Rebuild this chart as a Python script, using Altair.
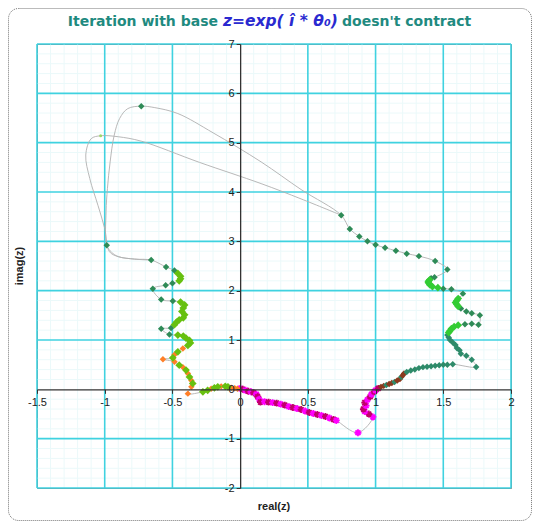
import altair as alt
import pandas as pd

# ---------------- axes / grid values ----------------
X_DOMAIN = [-1.5, 2]
Y_DOMAIN = [-2, 7]
x_ticks = [-1.5, -1, -0.5, 0, 0.5, 1, 1.5, 2]
y_ticks = [-2, -1, 0, 1, 2, 3, 4, 5, 6, 7]
x_major = [-1.5, -1, -0.5, 0.5, 1, 1.5, 2]
y_major = [-2, -1, 1, 2, 3, 4, 5, 6, 7]
x_minor = [-1.4, -1.3, -1.2, -1.1, -0.9, -0.8, -0.7, -0.6, -0.4, -0.3, -0.2, -0.1,
           0.1, 0.2, 0.3, 0.4, 0.6, 0.7, 0.8, 0.9, 1.1, 1.2, 1.3, 1.4, 1.6, 1.7, 1.8, 1.9]
y_minor = [-1.8, -1.6, -1.4, -1.2, -0.8, -0.6, -0.4, -0.2, 0.2, 0.4, 0.6, 0.8,
           1.2, 1.4, 1.6, 1.8, 2.2, 2.4, 2.6, 2.8, 3.2, 3.4, 3.6, 3.8, 4.2, 4.4, 4.6, 4.8,
           5.2, 5.4, 5.6, 5.8, 6.2, 6.4, 6.6, 6.8]

# ---------------- iterates, in path order ----------------
# codes: M magenta, C crimson, B brown, T teal, G green, D dark green,
#        L yellow-green, O orange, S small light dot, '-' curve only
bottom_x = [0.00, 0.02, 0.04, 0.06, 0.08, 0.10, 0.12, 0.13, 0.14, 0.15, 0.18, 0.21, 0.24, 0.27, 0.30,
            0.33, 0.36, 0.39, 0.42, 0.45, 0.48, 0.51, 0.54, 0.57, 0.60, 0.63, 0.66, 0.69, 0.71]
bottom_y = [0.02, 0.00, -0.02, -0.04, -0.05, -0.07, -0.10, -0.15, -0.20, -0.26, -0.25, -0.26, -0.27, -0.28, -0.30,
            -0.32, -0.35, -0.37, -0.39, -0.41, -0.44, -0.47, -0.49, -0.51, -0.53, -0.55, -0.58, -0.61, -0.63]
bottom_c = "MCMCMCMCMCMCMCMCMCMCMCMCMCMCM"

dip_x = [0.87, 0.98, 0.95, 0.92, 0.91, 0.93, 0.92, 0.94, 0.96, 0.97, 0.99, 1.00]
dip_y = [-0.88, -0.56, -0.50, -0.45, -0.40, -0.33, -0.27, -0.21, -0.15, -0.10, -0.05, -0.02]
dip_c = "MMCMCMCMCMCM"

brown_x = [1.02, 1.04, 1.06, 1.08, 1.10, 1.12, 1.14, 1.16, 1.18, 1.19, 1.20, 1.21]
brown_y = [0.02, 0.05, 0.07, 0.09, 0.11, 0.13, 0.15, 0.18, 0.21, 0.25, 0.28, 0.32]
brown_c = "CBBTBBTBBTBB"

teal_x = [1.23, 1.26, 1.29, 1.32, 1.35, 1.38, 1.41, 1.44, 1.47, 1.50, 1.53, 1.57, 1.743,
          1.71, 1.67, 1.63, 1.62, 1.60, 1.59, 1.57, 1.55, 1.54, 1.53]
teal_y = [0.35, 0.38, 0.40, 0.43, 0.45, 0.46, 0.47, 0.48, 0.49, 0.50, 0.50, 0.51, 0.455,
          0.60, 0.68, 0.72, 0.79, 0.84, 0.90, 0.95, 1.00, 1.05, 1.10]
teal_c = "TTTTTTTTTTTTTTTTTTTTTTT"

right_x = [1.54, 1.55, 1.56, 1.58, 1.61, 1.66, 1.71, 1.76, 1.77, 1.71, 1.67, 1.63,
           1.61, 1.60, 1.59, 1.60, 1.61, 1.645, 1.56, 1.50, 1.46, 1.42, 1.40, 1.39, 1.39, 1.40,
           1.41, 1.435, 1.53, 1.44, 1.32, 1.23, 1.15, 1.07, 1.00, 0.94, 0.88, 0.81, 0.746]
right_y = [1.15, 1.19, 1.23, 1.27, 1.30, 1.32, 1.33, 1.31, 1.50, 1.54, 1.58, 1.64,
           1.68, 1.72, 1.76, 1.80, 1.84, 1.94, 2.03, 2.04, 2.06, 2.08, 2.12, 2.16, 2.19, 2.22,
           2.25, 2.27, 2.43, 2.60, 2.70, 2.75, 2.81, 2.87, 2.93, 3.00, 3.10, 3.25, 3.53]
right_c = "GGGGGDDDDDDDGGGGGDDDGGGGGGDDDDDDDDDDDDD"

loop_x = [0.45, 0.155, -0.20, -0.46, -0.63, -0.73, -0.83, -0.89, -0.93, -0.96, -0.98, -0.99,
          -0.985, -0.95, -0.90, -0.78]
loop_y = [4.05, 4.61, 5.20, 5.59, 5.71, 5.74, 5.69, 5.49, 5.15, 4.61, 4.07, 3.60,
          2.92, 2.78, 2.69, 2.64]
loop_c = "-----D------D---"

left_x = [-0.657, -0.547, -0.485, -0.46, -0.44, -0.44, -0.45, -0.50, -0.55, -0.645, -0.583, -0.497,
          -0.44, -0.41, -0.42, -0.43, -0.41, -0.42, -0.45, -0.47, -0.485, -0.51, -0.583, -0.522,
          -0.46, -0.42, -0.40, -0.374, -0.367]
left_y = [2.62, 2.48, 2.41, 2.35, 2.29, 2.24, 2.20, 2.15, 2.11, 2.04, 1.82, 1.79,
          1.77, 1.71, 1.65, 1.58, 1.51, 1.45, 1.41, 1.36, 1.31, 1.245, 1.23, 1.11,
          1.10, 1.08, 1.04, 0.99, 0.94]
left_c = "DDDLLLLDDDDDLLLLLLLLLDDDLLLLL"

low_x = [-0.386, -0.423, -0.46, -0.485, -0.497, -0.57, -0.485, -0.45, -0.423, -0.40, -0.386, -0.374,
         -0.36, -0.35, -0.36, -0.386, -0.275, -0.24, -0.214, -0.19, -0.165, -0.14, -0.11, -0.09,
         -0.066, -0.04, -0.02]
low_y = [0.89, 0.83, 0.76, 0.70, 0.64, 0.61, 0.56, 0.49, 0.45, 0.39, 0.32, 0.25,
         0.18, 0.12, 0.05, -0.087, -0.05, -0.02, 0.01, 0.03, 0.05, 0.06, 0.06, 0.05,
         0.03, 0.02, 0.01]
low_c = "LOLOLOOLOLOLOLOOLLOLLOLLOOO"

# second smoothed branch of the connecting curve
alt_x = [0.746, 0.45, 0.155, -0.30, -0.73, -0.90, -1.03, -1.10, -1.14, -1.11, -1.05, -1.00,
         -0.965, -0.90, -0.78, -0.657]
alt_y = [3.53, 3.86, 4.17, 4.60, 5.03, 5.12, 5.14, 5.08, 4.75, 4.27, 3.73, 3.26,
         2.79, 2.69, 2.64, 2.62]
alt_c = "------S---------"

code_domain = ["M", "C", "B", "T", "G", "D", "L", "O", "S"]
code_colors = ["#ff00ff", "#c0006a", "#8b3a1e", "#2e8b6a", "#33cc33", "#2e8b57", "#66c010", "#ff7f27", "#9ed86a"]

# ---------------- build tables ----------------
rows = []
k = 0
for xs, ys, cs in [(bottom_x, bottom_y, bottom_c), (dip_x, dip_y, dip_c), (brown_x, brown_y, brown_c),
                   (teal_x, teal_y, teal_c), (right_x, right_y, right_c), (loop_x, loop_y, loop_c),
                   (left_x, left_y, left_c), (low_x, low_y, low_c)]:
    for x, y, c in zip(xs, ys, cs):
        rows.append({"x": x, "y": y, "c": c, "branch": "main", "i": k})
        k += 1
for j, (x, y, c) in enumerate(zip(alt_x, alt_y, alt_c)):
    rows.append({"x": x, "y": y, "c": c, "branch": "alt", "i": j})
df = pd.DataFrame(rows)
stars = df[df["c"].isin(["M", "C"])]
diamonds = df[df["c"].isin(["B", "T", "D", "O"])]
big_diamonds = df[df["c"].isin(["G", "L"])]
dots = df[df["c"] == "S"]

W, H = 474, 444
x_off = -(H * 2 / 9)
y_off = -(W * 1.5 / 3.5)

xs_scale = alt.Scale(domain=X_DOMAIN, nice=False, zero=False)
ys_scale = alt.Scale(domain=Y_DOMAIN, nice=False, zero=False)
axis_common = dict(grid=False, domainColor="#333333", domainWidth=1.3, tickColor="#333333",
                   tickSize=4, tickWidth=1, labelFont="Liberation Sans", labelFontSize=11,
                   labelColor="#222222", labelOverlap=False, labelFlush=False,
                   labelExpr="datum.value + ''", title=None, zindex=1)
X = alt.X("x:Q", scale=xs_scale, axis=alt.Axis(values=x_ticks, offset=x_off, labelPadding=3, **axis_common))
Y = alt.Y("y:Q", scale=ys_scale, axis=alt.Axis(values=y_ticks, offset=y_off, labelPadding=2, **axis_common))

grid_minor_v = alt.Chart(pd.DataFrame({"x": x_minor})).mark_rule(color="#ebf9fa", strokeWidth=1).encode(x=X)
grid_minor_h = alt.Chart(pd.DataFrame({"y": y_minor})).mark_rule(color="#ebf9fa", strokeWidth=1).encode(y=Y)
grid_major_v = alt.Chart(pd.DataFrame({"x": x_major})).mark_rule(color="#3fd2e0", strokeWidth=1.6).encode(x=X)
grid_major_h = alt.Chart(pd.DataFrame({"y": y_major})).mark_rule(color="#3fd2e0", strokeWidth=1.6).encode(y=Y)

line = alt.Chart(df).mark_line(color="#b0b0b0", strokeWidth=0.9, interpolate="catmull-rom").encode(
    x=X, y=Y, detail="branch:N", order="i:Q")

color_enc = alt.Color("c:N", scale=alt.Scale(domain=code_domain, range=code_colors), legend=None)

star_path = "M-1,0L1,0M0,-1L0,1M-0.7,-0.7L0.7,0.7M-0.7,0.7L0.7,-0.7"
pts_star = alt.Chart(stars).mark_point(shape=star_path, filled=False, size=48, strokeWidth=1.8,
                                       opacity=1).encode(x=X, y=Y, stroke=color_enc)
pts_dia = alt.Chart(diamonds).mark_point(shape="diamond", filled=True, size=42, opacity=1).encode(
    x=X, y=Y, color=color_enc)
pts_big = alt.Chart(big_diamonds).mark_point(shape="diamond", filled=True, size=60, opacity=1).encode(
    x=X, y=Y, color=color_enc)
pts_dot = alt.Chart(dots).mark_point(shape="circle", filled=True, size=9, opacity=1).encode(
    x=X, y=Y, color=color_enc)

dummy = pd.DataFrame({"a": [0]})
title_font = "DejaVu Sans"
t1 = alt.Chart(dummy).mark_text(text="Iteration with base", font=title_font, fontSize=14, fontWeight="bold",
                                color="#1f8a80", align="right", baseline="alphabetic").encode(
    x=alt.value(181), y=alt.value(-18))
t2 = alt.Chart(dummy).mark_text(text="z=exp( \u00ee * \u03b8\u2080)", font=title_font, fontSize=15.5,
                                fontWeight="bold", fontStyle="italic", color="#2a2ad0", align="left",
                                baseline="alphabetic").encode(x=alt.value(186), y=alt.value(-18))
t3 = alt.Chart(dummy).mark_text(text="doesn't contract", font=title_font, fontSize=14, fontWeight="bold",
                                color="#1f8a80", align="left", baseline="alphabetic").encode(
    x=alt.value(305), y=alt.value(-18))
xt = alt.Chart(dummy).mark_text(text="real(z)", font="Liberation Sans", fontSize=11, fontWeight="bold",
                                color="#222222", align="center", baseline="middle").encode(
    x=alt.value(W / 2), y=alt.value(H + 19))
yt = alt.Chart(dummy).mark_text(text="imag(z)", font="Liberation Sans", fontSize=11, fontWeight="bold",
                                color="#222222", align="center", baseline="middle", angle=270).encode(
    x=alt.value(-17), y=alt.value(H / 2))
frame = alt.Chart(dummy).mark_rect(fill=None, stroke="#777777", strokeWidth=1, strokeDash=[1, 1],
                                   cornerRadius=10).encode(
    x=alt.value(-28.5), x2=alt.value(W + 20.5), y=alt.value(-35.5), y2=alt.value(H + 32.5))

chart = alt.layer(grid_minor_v, grid_minor_h, grid_major_v, grid_major_h, line,
                  pts_star, pts_dia, pts_big, pts_dot, t1, t2, t3, xt, yt, frame).properties(
    width=W, height=H,
    autosize=alt.AutoSizeParams(type="none"),
    padding={"left": 29, "top": 36, "right": 21, "bottom": 33},
    background="white",
).configure_view(stroke="#808080", strokeWidth=1)

chart.save("out.html", embed_options={"renderer": "svg", "actions": False})
